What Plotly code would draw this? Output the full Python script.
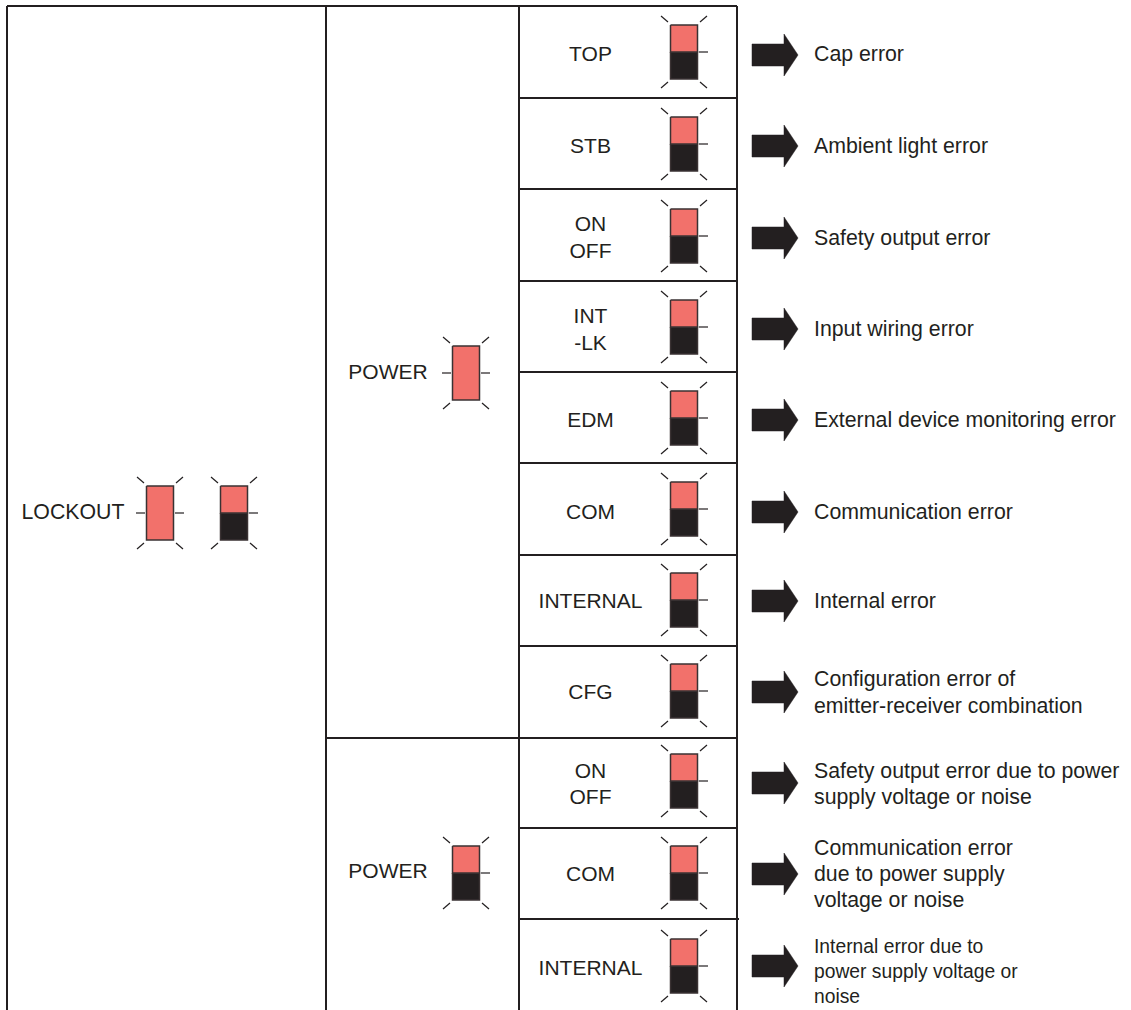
import plotly.graph_objects as go

W, H = 1131, 1010
INK = "#231f20"
RED = "#f2716b"
FONT = "Liberation Sans"

# Table structure
grid_x = [7, 326, 519, 737]
row_lines = [6, 98, 189, 281, 372, 463, 555, 646, 738, 828, 919]

# Rows: label lines, lamp centre y, arrow centre y, description lines
row_labels = [["TOP"], ["STB"], ["ON", "OFF"], ["INT", "-LK"], ["EDM"], ["COM"],
              ["INTERNAL"], ["CFG"], ["ON", "OFF"], ["COM"], ["INTERNAL"]]
row_label_y = [[54], [146], [224, 251], [316, 343], [420], [512],
               [601], [692], [771, 797], [874], [968]]
lamp_y = [52, 144, 236, 327, 418, 509, 600, 691, 781, 873, 966]
arrow_y = [55, 146, 238, 329, 420, 512, 601, 692, 783, 874, 966]
descriptions = [["Cap error"], ["Ambient light error"], ["Safety output error"],
                ["Input wiring error"], ["External device monitoring error"],
                ["Communication error"], ["Internal error"],
                ["Configuration error of", "emitter-receiver combination"],
                ["Safety output error due to power", "supply voltage or noise"],
                ["Communication error", "due to power supply", "voltage or noise"],
                ["Internal error due to", "power supply voltage or", "noise"]]
description_y = [[54], [146], [238], [329], [420], [512], [601], [679, 706],
                 [771, 797], [848, 874, 900], [946, 971, 996]]

lamp_x = 684
label_x = 590.5
arrow_x = 752
desc_x = 814

# Left-hand lamps: x, y, all-red?, has left tick
side_lamps = [(160, 513, True, True), (234, 513, False, False),
              (466, 373, True, True), (466, 873, False, False)]
side_texts = [("LOCKOUT", 73, 512), ("POWER", 388, 372), ("POWER", 388, 871)]

fig = go.Figure()


def line(xs, ys, width=2.0, color=INK):
    fig.add_trace(go.Scatter(x=xs, y=ys, mode="lines", hoverinfo="skip",
                             line=dict(color=color, width=width)))


def poly(xs, ys, fill, edge=None, width=1.5):
    fig.add_trace(go.Scatter(x=xs + xs[:1], y=ys + ys[:1], mode="lines", fill="toself",
                             fillcolor=fill, hoverinfo="skip",
                             line=dict(color=edge or fill, width=width)))


def lamp(cx, cy, full=False, left=False):
    hw, hh = 13.5, 27
    if full:
        poly([cx - hw, cx + hw, cx + hw, cx - hw], [cy - hh, cy - hh, cy + hh, cy + hh], RED, "#3a3233")
    else:
        poly([cx - hw, cx + hw, cx + hw, cx - hw], [cy, cy, cy + hh, cy + hh], INK, "#3a3233")
        poly([cx - hw, cx + hw, cx + hw, cx - hw], [cy - hh, cy - hh, cy, cy], RED, "#3a3233")
    for sx in (-1, 1):
        for sy in (-1, 1):
            line([cx + sx * 16, cx + sx * 23], [cy + sy * 30, cy + sy * 36], 1.2)
    line([cx + 15, cx + 24], [cy, cy], 1.2)
    if left:
        line([cx - 24, cx - 15], [cy, cy], 1.2)


def arrow(x0, cy):
    poly([x0, x0 + 32, x0 + 32, x0 + 46, x0 + 32, x0 + 32, x0],
         [cy - 11, cy - 11, cy - 21, cy, cy + 21, cy + 11, cy + 11], INK, INK, 0.5)


def text(x, y, s, size=21, anchor="middle center"):
    fig.add_trace(go.Scatter(x=[x], y=[y + 2], mode="text", text=[s], textposition=anchor,
                             hoverinfo="skip",
                             textfont=dict(family=FONT, size=size, color=INK)))


# Grid
for gx in grid_x:
    line([gx, gx], [row_lines[0], H])
line([grid_x[0], grid_x[3]], [row_lines[0], row_lines[0]])
for ry in row_lines[1:]:
    start = grid_x[1] if ry == row_lines[8] else grid_x[2]
    line([start, grid_x[3] + (2 if ry == row_lines[-1] else 0)], [ry, ry])

# Rows
for labels, ly, ay, ly2, desc, dy in zip(row_labels, lamp_y, arrow_y, row_label_y, descriptions, description_y):
    for s, y in zip(labels, ly2):
        text(label_x, y, s)
    lamp(lamp_x, ly)
    arrow(arrow_x, ay)
    small = desc[0].startswith("Internal error due")
    for s, y in zip(desc, dy):
        text(desc_x, y, s, 19.3 if small else 21.3, "middle right")

# Left-hand columns
for cx, cy, full, left in side_lamps:
    lamp(cx, cy, full, left)
for s, x, y in side_texts:
    text(x, y, s, 21.3 if s == "LOCKOUT" else 21)

fig.update_layout(
    width=W, height=H, autosize=False, showlegend=False,
    margin=dict(l=0, r=0, t=0, b=0, pad=0),
    paper_bgcolor="white", plot_bgcolor="white",
    xaxis=dict(range=[0, W], visible=False, fixedrange=True),
    yaxis=dict(range=[H, 0], visible=False, fixedrange=True),
)
fig.write_html("out.html", config={"displayModeBar": False},
               post_script="document.body.style.margin='0';document.body.style.overflow='hidden';")
